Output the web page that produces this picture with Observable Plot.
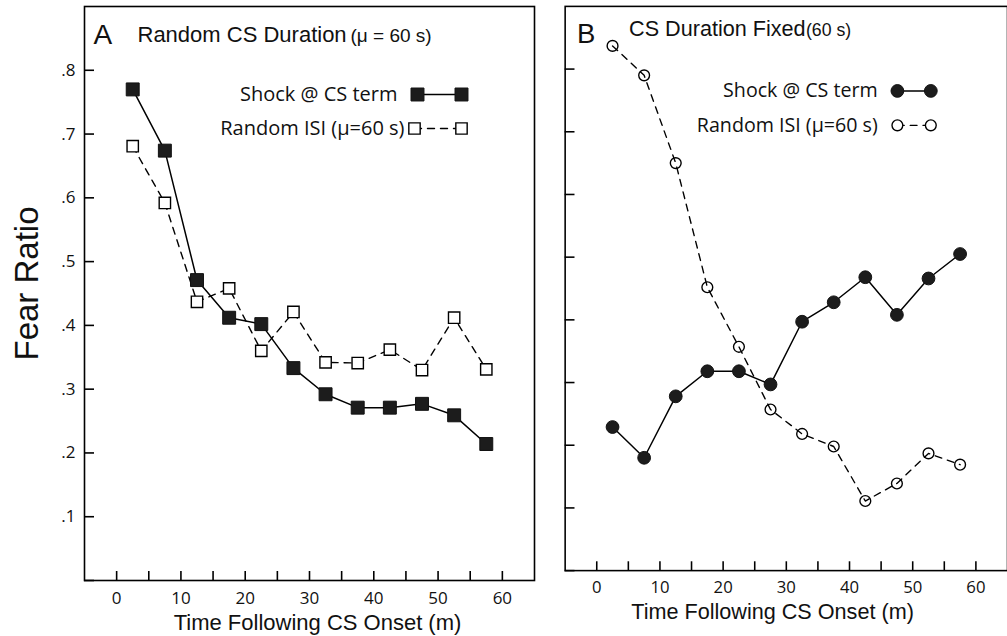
<!DOCTYPE html>
<html>
<head>
<meta charset="utf-8">
<script src="https://cdn.jsdelivr.net/npm/d3@7"></script>
<script src="https://cdn.jsdelivr.net/npm/@observablehq/plot@0.6"></script>
<style>
html, body { margin: 0; padding: 0; background: #fff; overflow: hidden; width: 1007px; height: 636px; }
#wrap { position: relative; width: 1007px; height: 636px; overflow: hidden; }
#a { position: absolute; left: 0; top: 0; }
#b { position: absolute; left: 545px; top: 0; }
</style>
</head>
<body>
<div id="wrap"><div id="a"></div><div id="b"></div></div>
<script>
// ---- data ----
const times = [2.5, 7.5, 12.5, 17.5, 22.5, 27.5, 32.5, 37.5, 42.5, 47.5, 52.5, 57.5];
const aShock  = [0.770, 0.674, 0.471, 0.412, 0.402, 0.333, 0.292, 0.271, 0.271, 0.277, 0.259, 0.214];
const aRandom = [0.681, 0.592, 0.437, 0.458, 0.360, 0.421, 0.342, 0.341, 0.362, 0.330, 0.412, 0.331];
const bShock  = [0.229, 0.180, 0.278, 0.318, 0.318, 0.297, 0.397, 0.428, 0.468, 0.408, 0.466, 0.505];
const bRandom = [0.837, 0.790, 0.650, 0.452, 0.357, 0.257, 0.218, 0.198, 0.111, 0.139, 0.187, 0.169];
const seriesLabels = ["Shock @ CS term", "Random ISI (\u03bc=60 s)"];
const xTicks = [0, 5, 10, 15, 20, 25, 30, 35, 40, 45, 50, 55, 60];
const xLabels = [0, 10, 20, 30, 40, 50, 60];
const yTicks = [0, 0.1, 0.2, 0.3, 0.4, 0.5, 0.6, 0.7, 0.8];
const yLabelValues = [0.1, 0.2, 0.3, 0.4, 0.5, 0.6, 0.7, 0.8];
const yLabels = [".1", ".2", ".3", ".4", ".5", ".6", ".7", ".8"];
const xTitle = "Time Following CS Onset (m)";
const yTitle = "Fear Ratio";

const rows = (ys) => times.map((t, i) => ({t, v: ys[i]}));
const TICKFONT = "Open Sans, Noto Sans, sans-serif";
const HEADFONT = "Liberation Sans, Arial, sans-serif";

const hLine = {draw(context, l) { context.moveTo(0, 0); context.lineTo(0, -l); }};

function panel(cfg) {
  const shock = rows(cfg.shock), random = rows(cfg.random);
  const marks = [
    Plot.frame({stroke: "black", strokeWidth: 1.6}),
    Plot.axisX(xTicks, {tickSize: -9, tickFormat: () => "", label: null, strokeWidth: 1.6}),
    Plot.axisX(xLabels, {tickSize: 0, tickPadding: 11, label: null, fontSize: 17, fontFamily: TICKFONT, fill: "#111"}),
    Plot.axisY(yTicks, {tickSize: -10, tickFormat: () => "", label: null, strokeWidth: 1.6}),
  ];
  if (cfg.yLabels) {
    marks.push(Plot.axisY(yLabelValues, {tickSize: 0, tickPadding: 9, label: null, fontSize: 17, fontFamily: TICKFONT, fill: "#111",
      tickFormat: d => yLabels[yLabelValues.indexOf(d)]}));
    marks.push(Plot.text([yTitle], {frameAnchor: "left", rotate: -90, dx: -57, dy: -10, fontSize: 33, fontFamily: HEADFONT, textAnchor: "middle", lineAnchor: "middle", fill: "#111"}));
  }
  const openLine = Plot.line(random, {x: "t", y: "v", stroke: "black", strokeWidth: 1.4, strokeDasharray: "7,6"});
  const openDots = Plot.dot(random, {x: "t", y: "v", symbol: cfg.symbol, r: cfg.rOpen, fill: "white", stroke: "black", strokeWidth: 1.4});
  const L = cfg.leg;
  marks.push(
    Plot.line(shock, {x: "t", y: "v", stroke: "black", strokeWidth: 1.5}),
    ...(cfg.lineOnTop ? [openDots, openLine] : [openLine, openDots]),
    Plot.dot(shock, {x: "t", y: "v", symbol: cfg.symbol, r: cfg.rFilled, fill: "#1c1c1c", stroke: "#111", strokeWidth: 1}),
    // panel titles
    Plot.text([cfg.letter], {frameAnchor: "top-left", dx: cfg.letterDx, dy: 37, fontSize: 28, fontFamily: HEADFONT, lineAnchor: "bottom", textAnchor: "start", fill: "#111"}),
    Plot.text([cfg.title], {frameAnchor: "top-left", dx: cfg.titleDx, dy: cfg.titleDy, fontSize: 22, fontFamily: HEADFONT, lineAnchor: "bottom", textAnchor: "start", fill: "#111"}),
    Plot.text([cfg.sub], {frameAnchor: "top-left", dx: cfg.subDx, dy: cfg.titleDy, fontSize: cfg.subSize, fontFamily: HEADFONT, lineAnchor: "bottom", textAnchor: "start", fill: "#111"}),
    // x title
    Plot.text([xTitle], {frameAnchor: "bottom", dx: cfg.xTitleDx, dy: 49, fontSize: 22, fontFamily: HEADFONT, lineAnchor: "bottom", fill: "#111"}),
    // legend
    Plot.text([seriesLabels[0]], {frameAnchor: "top-left", dx: L.t1, dy: L.y1, fontSize: 20, fontFamily: TICKFONT, textAnchor: "end", lineAnchor: "middle", fill: "#111"}),
    Plot.text([seriesLabels[1]], {frameAnchor: "top-left", dx: L.t2, dy: L.y2, fontSize: 20, fontFamily: TICKFONT, textAnchor: "end", lineAnchor: "middle", fill: "#111"}),
    Plot.vector([0], {frameAnchor: "top-left", dx: L.m1, dy: L.y1, length: L.m2 - L.m1, rotate: 90, anchor: "start", shape: hLine, stroke: "black", strokeWidth: 1.5}),
    Plot.vector([0], {frameAnchor: "top-left", dx: L.o1, dy: L.y2, length: L.m2 - L.o1, rotate: 90, anchor: "start", shape: hLine, stroke: "black", strokeWidth: 1.4, strokeDasharray: "7,6"}),
    Plot.dot([0], {frameAnchor: "top-left", dx: L.m1, dy: L.y1, symbol: cfg.symbol, r: cfg.rFilled, fill: "#1c1c1c", stroke: "#111", strokeWidth: 1}),
    Plot.dot([0], {frameAnchor: "top-left", dx: L.m2, dy: L.y1, symbol: cfg.symbol, r: cfg.rFilled, fill: "#1c1c1c", stroke: "#111", strokeWidth: 1}),
    Plot.dot([0], {frameAnchor: "top-left", dx: L.o1, dy: L.y2, symbol: cfg.symbol, r: cfg.rOpen, fill: "white", stroke: "black", strokeWidth: 1.4}),
    Plot.dot([0], {frameAnchor: "top-left", dx: L.m2, dy: L.y2, symbol: cfg.symbol, r: cfg.rOpen, fill: "white", stroke: "black", strokeWidth: 1.4})
  );
  return Plot.plot({
    width: cfg.width, height: 636,
    marginLeft: cfg.marginLeft, marginRight: cfg.marginRight, marginTop: 6, marginBottom: 56,
    x: {domain: [-5, 65]},
    y: {domain: [0, 0.9]},
    style: {fontFamily: TICKFONT, fontSize: "17px", background: "transparent", overflow: "visible"},
    marks
  });
}

const A = panel({
  width: 545, marginLeft: 84, marginRight: 11,
  shock: aShock, random: aRandom, symbol: "square", rFilled: 7.3, rOpen: 6.4, lineOnTop: false, yLabels: true,
  letter: "A", letterDx: 9, title: "Random CS Duration", titleDx: 53, titleDy: 35, sub: "(\u03bc = 60 s)", subDx: 266, subSize: 19,
  xTitleDx: 8,
  leg: {t1: 313, t2: 320, y1: 88, y2: 122, m1: 333, o1: 330, m2: 377}
});
const B = panel({
  width: 470, marginLeft: 20, marginRight: 0,
  shock: bShock, random: bRandom, symbol: "circle", rFilled: 6.5, rOpen: 5.5, lineOnTop: true, yLabels: false,
  letter: "B", letterDx: 12, title: "CS Duration Fixed", titleDx: 65, titleDy: 30, sub: "(60 s)", subDx: 245, subSize: 18,
  xTitleDx: -14,
  leg: {t1: 318, t2: 318, y1: 86, y2: 121, m1: 338, o1: 338, m2: 372}
});
document.getElementById("a").appendChild(A);
document.getElementById("b").appendChild(B);
</script>
</body>
</html>
